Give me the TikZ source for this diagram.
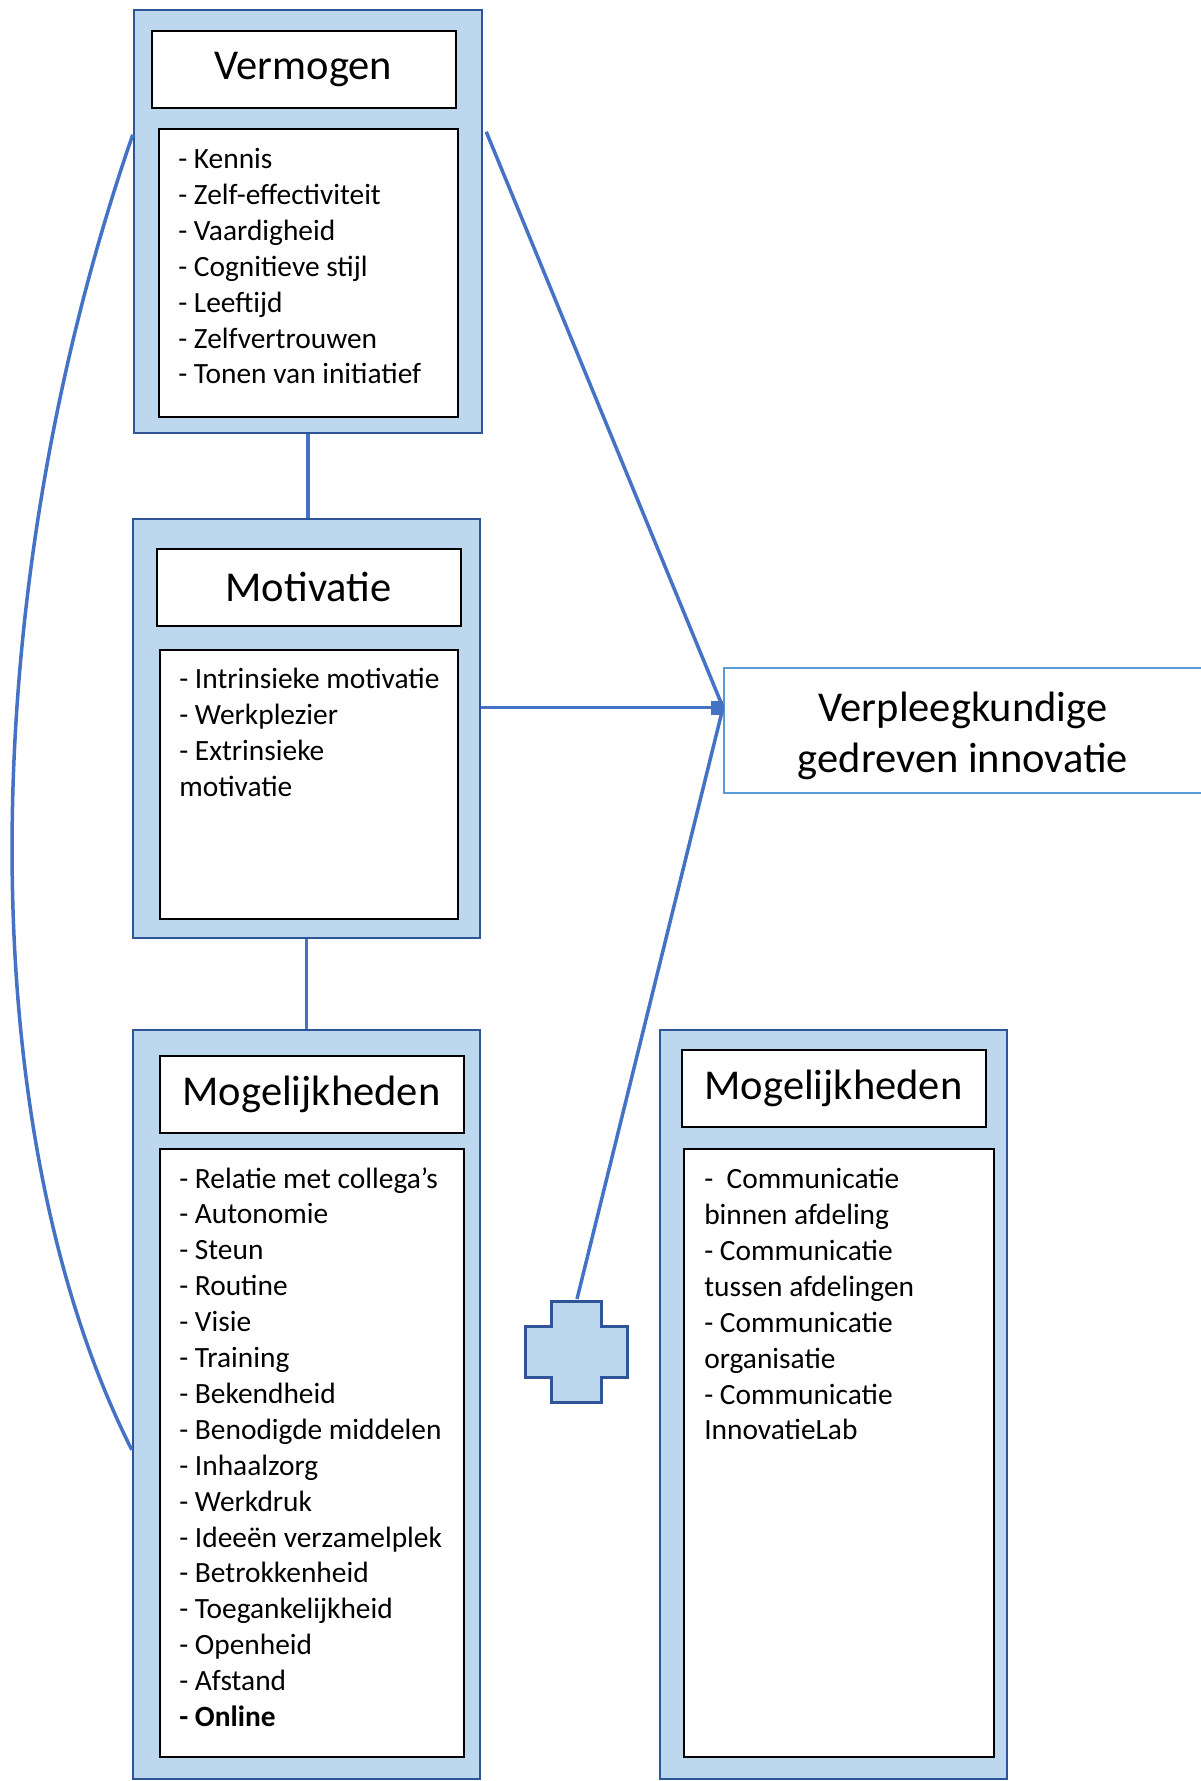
\documentclass[tikz,border=0pt]{standalone}
\usepackage{fontspec}
\setmainfont{Carlito}
\usetikzlibrary{positioning, arrows.meta}
\definecolor{MGFill}{HTML}{BDD7EE}
\definecolor{MGLine}{HTML}{2F5597}
\definecolor{MGLink}{HTML}{4472C4}
\definecolor{MGSky}{HTML}{5B9BD5}

\begin{document}
\begin{tikzpicture}[x=1pt, y=-1pt,
    outer/.style={rectangle, draw=MGLine, fill=MGFill, line width=2.5pt,
                  inner sep=0pt, minimum width=347pt},
    head/.style={rectangle, draw=black, fill=white, line width=2pt,
                 inner sep=0pt, minimum width=304pt, minimum height=77pt,
                 font=\fontsize{42.5}{51}\selectfont},
    lst/.style={rectangle, draw=black, fill=white, line width=1.8pt,
                inner sep=0pt},
    items/.style={anchor=north west, inner sep=0pt, align=left,
                  font=\fontsize{29.4}{35.9}\selectfont,
                  execute at begin node=\strut},
    link/.style={draw=MGLink, line width=3.5pt}
  ]
  \useasboundingbox (0,0) rectangle (1200,1781);

  % Vermogen
  \node[outer, minimum width=348pt, minimum height=423pt] (verm) at (308,221.5) {};
  \node[head] (vermhead) at (303.5,69.5) {Vermogen};
  \node[lst, minimum width=299pt, minimum height=288pt] (vermlist) at (308.5,273) {};
  \node[items] (vermitems) at ([shift={(20pt,-20pt)}]vermlist.north west)
    {- Kennis\\- Zelf-effectiviteit\\- Vaardigheid\\- Cognitieve stijl\\
     - Leeftijd\\- Zelfvertrouwen\\- Tonen van initiatief};

  % Motivatie
  \node[outer, minimum height=419pt] (moti) at (306.5,728.5) {};
  \node[head] (motihead) at (308.5,587) {Motivatie};
  \node[lst, minimum width=298pt, minimum height=269pt] (motilist) at (309,784.5) {};
  \node[items] (motiitems) at ([shift={(20pt,-19pt)}]motilist.north west)
    {- Intrinsieke motivatie\\- Werkplezier\\- Extrinsieke\\motivatie};

  % Mogelijkheden (links)
  \node[outer, minimum height=749pt] (mogl) at (306.5,1404.5) {};
  \node[head] (moglhead) at (311.5,1094.5) {Mogelijkheden};
  \node[lst, minimum width=304pt, minimum height=608pt] (mogllist) at (312,1453) {};
  \node[items] (moglitems) at ([shift={(20pt,-19pt)}]mogllist.north west)
    {- Relatie met collega’s\\- Autonomie\\- Steun\\- Routine\\- Visie\\
     - Training\\- Bekendheid\\- Benodigde middelen\\- Inhaalzorg\\
     - Werkdruk\\- Ideeën verzamelplek\\- Betrokkenheid\\
     - Toegankelijkheid\\- Openheid\\- Afstand\\\textbf{- Online}};

  % Mogelijkheden (rechts)
  \node[outer, minimum height=749pt] (mogr) at (833.5,1404.5) {};
  \node[head] (mogrhead) at (833.5,1088) {Mogelijkheden};
  \node[lst, minimum width=310pt, minimum height=608pt] (mogrlist) at (839,1453) {};
  \node[items] (mogritems) at ([shift={(21pt,-20pt)}]mogrlist.north west)
    {-~ Communicatie\\binnen afdeling\\- Communicatie\\tussen afdelingen\\
     - Communicatie\\organisatie\\- Communicatie\\InnovatieLab};

  % doel
  \node[rectangle, draw=MGSky, fill=white, line width=2pt, minimum width=478pt,
        minimum height=125pt, align=center, font=\fontsize{42.5}{51}\selectfont]
        (verp) at (963,730.5) {\rule{0pt}{40pt}Verpleegkundige\\gedreven innovatie};

  % plus
  \draw[MGLine, fill=MGFill, line width=3pt]
    (551,1301) -- (601,1301) -- (601,1326) -- (627,1326) -- (627,1377)
    -- (601,1377) -- (601,1402) -- (551,1402) -- (551,1377) -- (525,1377)
    -- (525,1326) -- (551,1326) -- cycle;
  \coordinate (plustop) at (577,1299);

  \coordinate (hub) at ([yshift=23pt]verp.west);
  \coordinate (vermside) at ([shift={(3pt,-123pt)}]verm.north east);
  \coordinate (arcA) at ([yshift=-126pt]verm.north west);
  \coordinate (arcB) at ([yshift=-421pt]mogl.north west);

  \draw[link] (verm.south) -- (verm.south |- moti.north);
  \draw[link] (moti.south) -- (moti.south |- mogl.north);
  \draw[link] (vermside) -- (hub);
  \draw[link] (plustop) -- (hub);
  \draw[link, -{Square[length=12pt,width=14pt]}] (moti.east |- hub) -- (hub);
  \draw[link] (arcA) .. controls (-28,600) and (-28,1132) .. (arcB);
\end{tikzpicture}
\end{document}
